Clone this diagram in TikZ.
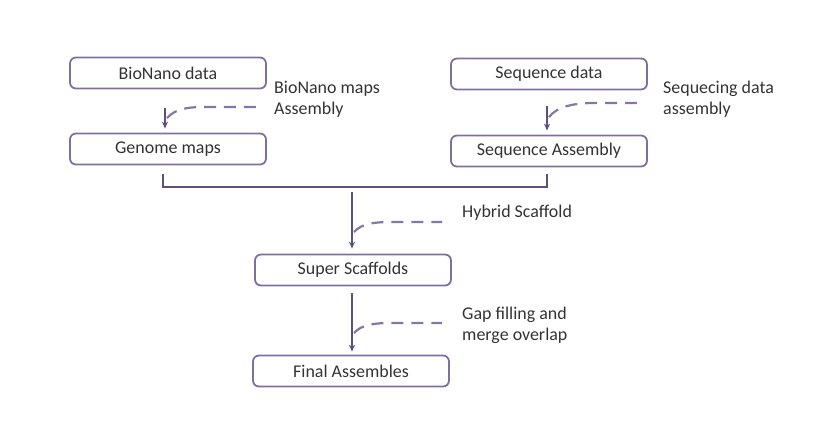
\documentclass[tikz,border=0pt]{standalone}
\usepackage{fontspec}
\setmainfont{Carlito}
\usetikzlibrary{arrows.meta}
\definecolor{boxline}{HTML}{7F6F9F}
\definecolor{flowline}{HTML}{5F4F7F}
\definecolor{dashline}{HTML}{8577A5}
\definecolor{txt}{HTML}{333333}
\tikzset{
    stagebox/.style = {draw = boxline, line width = 1.8pt, rounded corners = 6pt,
        minimum width = 196bp, minimum height = 31bp, inner sep = 0pt,
        text = txt, font = \fontsize{18}{21}\selectfont},
    steplabel/.style = {anchor = west, align = left, inner sep = 0pt,
        text = txt, font = \fontsize{18}{21}\selectfont},
    flow/.style = {draw = flowline, line width = 1.6pt},
    flowarrow/.style = {flow, -{Stealth[length = 7pt, width = 6pt]}},
    hint/.style = {draw = dashline, line width = 2.2pt, dash pattern = on 12pt off 8pt}
}
\begin{document}
\begin{tikzpicture}[x = 1bp, y = -1bp]
    
        \useasboundingbox (0,0) rectangle (824,420);
        
        \node[stagebox] (bionano) at (168,73) {BioNano data};
        \node[stagebox] (genome) at (168,149) {Genome maps};
        \node[stagebox] (seqdata) at (549,74) {Sequence data};
        \node[stagebox] (seqasm) at (549,151) {Sequence Assembly};
        \node[stagebox] (super) at (353,270) {Super Scaffolds};
        \node[stagebox] (final) at (351,371) {Final Assembles};
        
        \draw[flowarrow] ([xshift=-3bp, yshift=-19bp]bionano.south) -- ([xshift=-3bp, yshift=4bp]genome.north);
        \draw[flowarrow] ([xshift=-2bp, yshift=-16bp]seqdata.south) -- ([xshift=-2bp, yshift=4bp]seqasm.north);
        
        \draw[flow] ([xshift=-5bp, yshift=-9bp]genome.south) |- (352,187) -| ([xshift=-2bp, yshift=-7bp]seqasm.south);
        \coordinate (merge) at (352,192);
        \draw[flowarrow] (merge) -- ([xshift=-1bp, yshift=5bp]super.north);
        \draw[flowarrow] ([xshift=-1bp, yshift=-7bp]super.south) -- ([xshift=1bp, yshift=3bp]final.north);
        
        \draw[hint] (167,118) .. controls (176,108) and (190,107) .. (205,107) -- (257,107);
        \draw[hint] (549,117) .. controls (558,106) and (572,104) .. (590,103) -- (642,103);
        \draw[hint] (354,232) .. controls (362,223) and (376,222) .. (392,222) -- (442,222);
        \draw[hint] (354,333) .. controls (362,324) and (376,323) .. (392,323) -- (442,323);
        
        \node[steplabel] (maplabel) at (274,99.5) {BioNano maps\\Assembly};
        \node[steplabel] (seqlabel) at (663,99) {Sequecing data\\assembly};
        \node[steplabel] (hybridlabel) at (462,213) {Hybrid Scaffold};
        \node[steplabel] (gaplabel) at (462,325) {Gap filling and\\merge overlap};
        
    \end{tikzpicture}
\end{document}
